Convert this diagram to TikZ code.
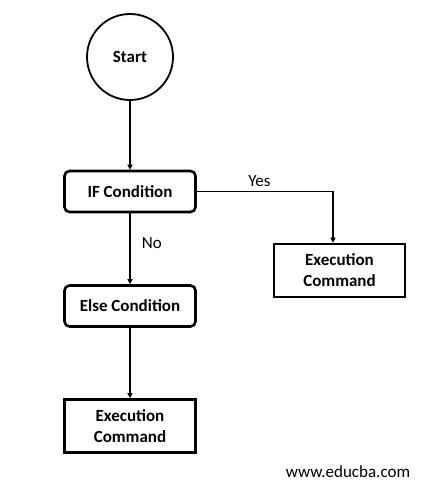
\documentclass[tikz,border=0pt]{standalone}
\usepackage{fontspec}
\setmainfont{Carlito}
\usetikzlibrary{arrows.meta}

\begin{document}
\begin{tikzpicture}[x=1pt, y=-1pt,
  startnode/.style={circle, draw, line width=1.8pt, minimum size=86pt,
    font=\bfseries\fontsize{17}{21}\selectfont},
  condnode/.style={draw, rounded corners=5pt, line width=2.6pt,
    minimum width=131pt, minimum height=41pt,
    font=\bfseries\fontsize{17}{21}\selectfont},
  cmdnode/.style={draw, line width=2.6pt, align=center,
    minimum width=131pt, minimum height=53pt, inner sep=2pt,
    font=\bfseries\fontsize{17}{21}\selectfont},
  lbl/.style={font=\fontsize{17}{20}\selectfont},
  arr/.style={-{Triangle[length=5pt, width=5pt]}, line width=1.3pt}]
\useasboundingbox (0,0) rectangle (443,494);
% Nodes
\node[startnode] (start) at (130,57) {Start};
\node[condnode] (ifc) at (130,191.5) {IF Condition};
\node[cmdnode] (cmdyes) at (339.5,270.5) {Execution\\Command};
\node[condnode] (elsec) at (130,306) {Else Condition};
\node[cmdnode] (cmdno) at (130,426) {Execution\\Command};
\node[lbl] (site) at (348,472) {www.educba.com};
% Arrows with labels
\draw[arr] (start) -- (ifc);
\draw[arr] (ifc.east) -| ([xshift=-6.5pt]cmdyes.north)
  node[pos=0.23, above, lbl, yshift=1pt] {Yes};
\draw[arr] (ifc) -- (elsec)
  node[pos=0.42, right, xshift=8pt, lbl] {No};
\draw[arr] (elsec) -- (cmdno);
\end{tikzpicture}
\end{document}
